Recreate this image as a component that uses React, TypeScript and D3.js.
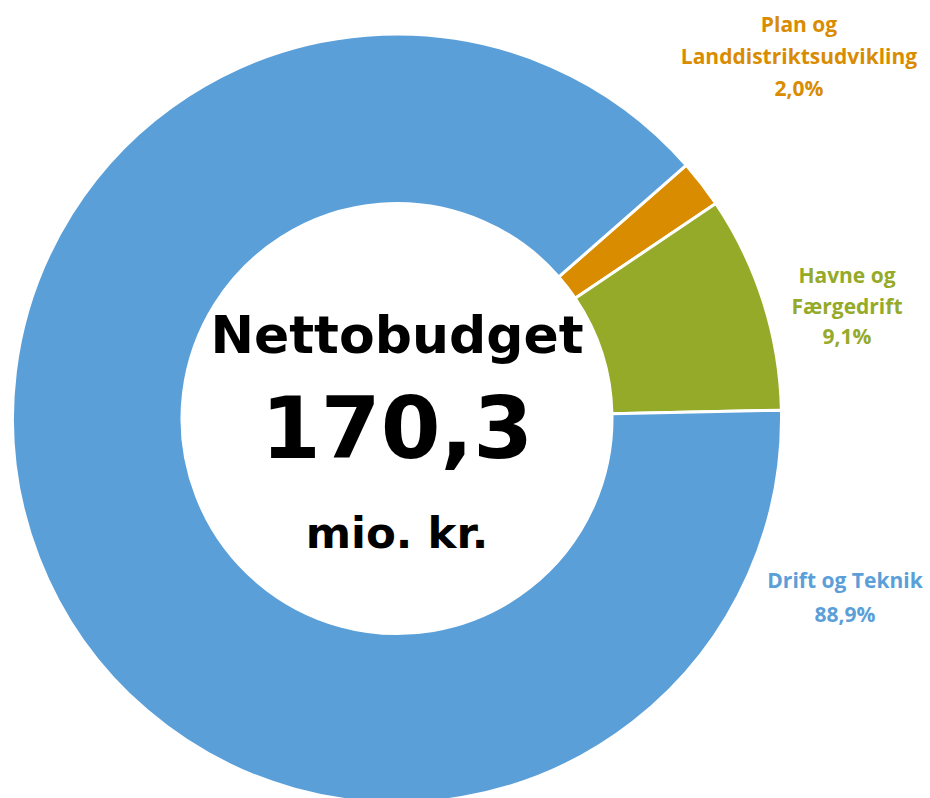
import React, { useEffect, useRef } from "react";
import * as d3 from "d3";

const categories = ["Plan og Landdistriktsudvikling", "Havne og Færgedrift", "Drift og Teknik"];
const shares = [2.0, 9.1, 88.9];
const labelLines = [
  ["Plan og", "Landdistriktsudvikling", "2,0%"],
  ["Havne og", "Færgedrift", "9,1%"],
  ["Drift og Teknik", "88,9%"],
];
const sliceColors = ["#D98C00", "#95AA28", "#5B9FD8"];
const centerLines = ["Nettobudget", "170,3", "mio. kr."];

const App = () => {
  const ref = useRef<SVGSVGElement>(null);

  useEffect(() => {
    const width = 930;
    const height = 798;
    const cx = 397;
    const cy = 418.5;
    const outer = 384.5;
    const inner = 215;

    const svg = d3.select(ref.current);
    svg.selectAll("*").remove();
    svg.attr("width", width).attr("height", height);

    const g = svg.append("g").attr("transform", `translate(${cx},${cy})`);

    // first slice starts a bit past 1 o'clock, like the original
    const start = (48.8 * Math.PI) / 180;
    const pie = d3
      .pie<number>()
      .sort(null)
      .value((d) => d)
      .startAngle(start)
      .endAngle(start + 2 * Math.PI);

    const arc = d3.arc<d3.PieArcDatum<number>>().innerRadius(inner).outerRadius(outer);

    g.selectAll("path")
      .data(pie(shares))
      .enter()
      .append("path")
      .attr("d", arc)
      .attr("fill", (d, i) => sliceColors[i])
      .attr("stroke", "#fff")
      .attr("stroke-width", 3)
      .attr("stroke-linejoin", "round");

    // slice labels, placed beside the ring
    const labelPos = [
      { x: 799, y: 32 },
      { x: 847, y: 283 },
      { x: 845, y: 588 },
    ];
    const lineGap = [32, 30.5, 34];
    labelLines.forEach((lines, i) => {
      const t = svg
        .append("text")
        .attr("text-anchor", "middle")
        .attr("font-family", "'Open Sans', Lato, sans-serif")
        .attr("font-weight", 700)
        .attr("font-size", 21)
        .attr("fill", sliceColors[i]);
      lines.forEach((line, j) => {
        t.append("tspan")
          .attr("x", labelPos[i].x)
          .attr("y", labelPos[i].y + j * lineGap[i])
          .text(line);
      });
    });

    // center text
    const center = [
      { size: 52, y: 353 },
      { size: 86, y: 458 },
      { size: 43.5, y: 548 },
    ];
    centerLines.forEach((line, i) => {
      svg
        .append("text")
        .attr("x", cx)
        .attr("y", center[i].y)
        .attr("text-anchor", "middle")
        .attr("font-family", "'DejaVu Sans', sans-serif")
        .attr("font-weight", 700)
        .attr("font-size", center[i].size)
        .attr("fill", "#000")
        .text(line);
    });
  }, []);

  return (
    <svg
      ref={ref}
      aria-label={categories.join(", ")}
      style={{ position: "absolute", left: 0, top: 0, display: "block" }}
    />
  );
};

export default App;
